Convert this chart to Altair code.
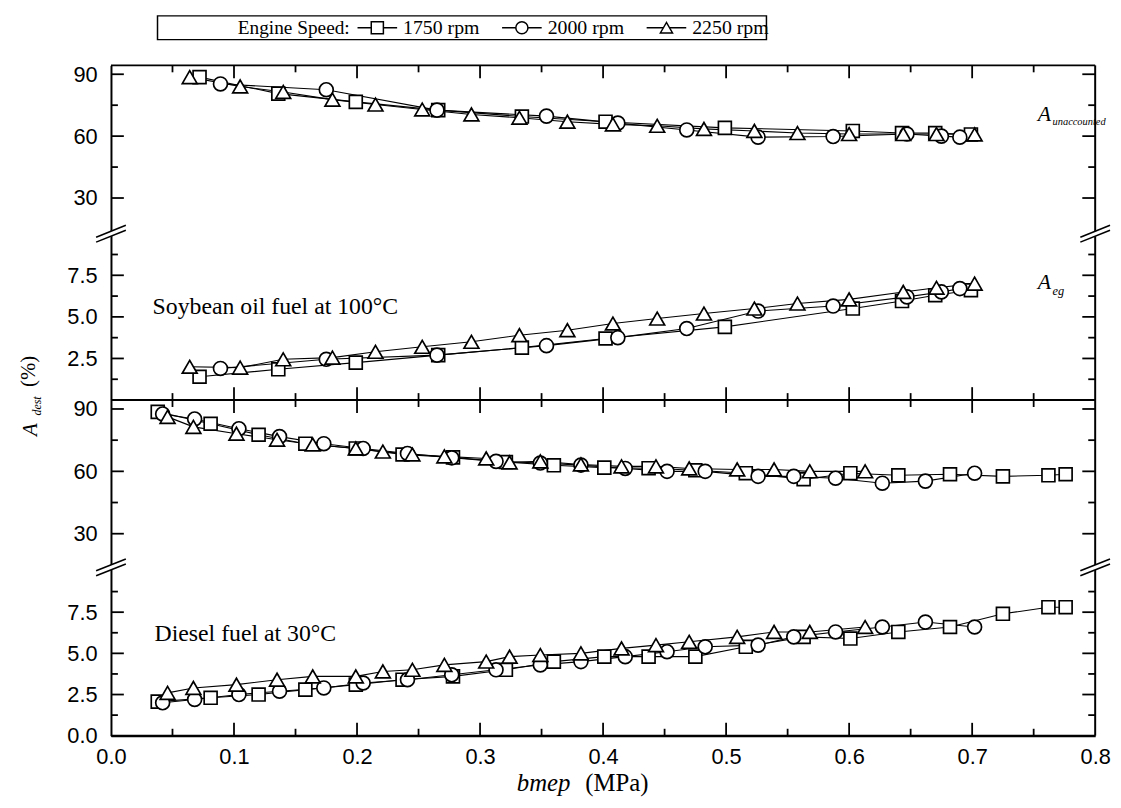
import altair as alt
import pandas as pd

# ---------------- data ----------------
speeds = ["1750 rpm", "2000 rpm", "2250 rpm"]
symbols = ["square", "circle", "triangle-up"]

# Soybean oil fuel at 100 C
soy_x_1750 = [0.072, 0.136, 0.199, 0.266, 0.334, 0.402, 0.499, 0.603, 0.643, 0.670, 0.699]
soy_unc_1750 = [88.6, 80.6, 76.6, 72.6, 69.5, 67.0, 64.0, 62.5, 61.5, 61.5, 60.8]
soy_eg_1750 = [1.4, 1.85, 2.25, 2.7, 3.15, 3.7, 4.4, 5.5, 5.95, 6.3, 6.6]

soy_x_2000 = [0.089, 0.175, 0.265, 0.354, 0.412, 0.468, 0.526, 0.587, 0.647, 0.675, 0.690]
soy_unc_2000 = [85.3, 82.5, 72.6, 69.7, 66.3, 63.0, 59.5, 59.8, 61.0, 60.0, 59.5]
soy_eg_2000 = [1.9, 2.45, 2.7, 3.27, 3.75, 4.3, 5.35, 5.65, 6.2, 6.5, 6.7]

soy_x_2250 = [0.064, 0.105, 0.140, 0.180, 0.215, 0.253, 0.293, 0.332, 0.371, 0.408,
              0.444, 0.482, 0.523, 0.558, 0.600, 0.644, 0.671, 0.702]
soy_unc_2250 = [88.6, 84.1, 81.4, 77.7, 75.3, 72.9, 70.5, 68.9, 67.0, 65.7,
                65.0, 63.5, 62.5, 61.5, 61.0, 61.0, 61.0, 60.8]
soy_eg_2250 = [2.0, 1.95, 2.45, 2.55, 2.9, 3.2, 3.5, 3.9, 4.2, 4.6,
               4.9, 5.2, 5.5, 5.8, 6.05, 6.5, 6.75, 7.0]

# Diesel fuel at 30 C
die_x_1750 = [0.038, 0.081, 0.120, 0.158, 0.199, 0.237, 0.278, 0.321, 0.360, 0.401,
              0.437, 0.475, 0.516, 0.563, 0.601, 0.640, 0.682, 0.725, 0.762, 0.776]
die_unc_1750 = [88.6, 82.9, 77.6, 73.3, 71.0, 68.1, 66.7, 64.5, 62.9, 61.8,
                61.5, 60.5, 59.1, 56.2, 59.1, 58.1, 58.6, 57.6, 58.1, 58.6]
die_eg_1750 = [2.07, 2.3, 2.5, 2.8, 3.1, 3.4, 3.6, 4.0, 4.5, 4.8,
               4.8, 4.8, 5.4, 6.0, 5.9, 6.3, 6.6, 7.4, 7.8, 7.8]

die_x_2000 = [0.042, 0.068, 0.104, 0.137, 0.173, 0.205, 0.241, 0.277, 0.313, 0.349,
              0.382, 0.418, 0.452, 0.483, 0.526, 0.555, 0.589, 0.627, 0.662, 0.702]
die_unc_2000 = [87.6, 85.2, 80.5, 76.7, 73.3, 71.0, 68.6, 66.5, 64.8, 64.0,
                63.0, 61.4, 60.0, 60.0, 57.6, 57.6, 56.7, 54.3, 55.3, 59.1]
die_eg_2000 = [2.0, 2.2, 2.5, 2.7, 2.9, 3.2, 3.4, 3.7, 4.0, 4.3,
               4.5, 4.8, 5.1, 5.4, 5.5, 6.0, 6.3, 6.6, 6.9, 6.6]

die_x_2250 = [0.046, 0.067, 0.102, 0.135, 0.164, 0.199, 0.221, 0.245, 0.271, 0.305,
              0.324, 0.349, 0.382, 0.415, 0.443, 0.470, 0.509, 0.539, 0.568, 0.613]
die_unc_2250 = [86.2, 81.4, 78.1, 75.2, 72.9, 71.0, 69.5, 68.1, 67.2, 66.2,
                64.3, 64.8, 63.3, 62.4, 62.4, 61.4, 60.9, 60.9, 60.0, 60.0]
die_eg_2250 = [2.6, 2.9, 3.1, 3.4, 3.6, 3.6, 3.9, 4.0, 4.3, 4.5,
               4.8, 4.9, 5.0, 5.3, 5.5, 5.7, 6.0, 6.3, 6.3, 6.6]

x_labels = [0.0, 0.1, 0.2, 0.3, 0.4, 0.5, 0.6, 0.7, 0.8]
x_major = [0.1, 0.2, 0.3, 0.4, 0.5, 0.6, 0.7]
x_minor = [0.05, 0.15, 0.25, 0.35, 0.45, 0.55, 0.65, 0.75]
unc_labels = [30, 60, 90]
unc_minor = [45, 75]
eg_labels_top = [2.5, 5.0, 7.5]
eg_labels_bottom = [0.0, 2.5, 5.0, 7.5]
eg_major = [2.5, 5.0, 7.5]
eg_minor = [1.25, 3.75, 6.25, 8.75]


def long_frame(xs_list, ys_list):
    frames = [pd.DataFrame({"x": xs, "y": ys, "speed": sp})
              for sp, xs, ys in zip(speeds, xs_list, ys_list)]
    return pd.concat(frames, ignore_index=True)


soy_unc = long_frame([soy_x_1750, soy_x_2000, soy_x_2250], [soy_unc_1750, soy_unc_2000, soy_unc_2250])
soy_eg = long_frame([soy_x_1750, soy_x_2000, soy_x_2250], [soy_eg_1750, soy_eg_2000, soy_eg_2250])
die_unc = long_frame([die_x_1750, die_x_2000, die_x_2250], [die_unc_1750, die_unc_2000, die_unc_2250])
die_eg = long_frame([die_x_1750, die_x_2000, die_x_2250], [die_eg_1750, die_eg_2000, die_eg_2250])

# ---------------- styling ----------------
SANS = "Liberation Sans"
SERIF = "Liberation Serif"
W = 994
MAJ = 13
MIN = 7
ONE = pd.DataFrame({"a": [0]})


def section(df, domain, H, labels, fmt, major, minor, top=False, bottom=False,
            brk=False, xaxis=None, extras=()):
    xenc = alt.X("x:Q", scale=alt.Scale(domain=[0, 0.8], nice=False, zero=False), axis=xaxis)
    yaxis = alt.Axis(values=labels, format=fmt, ticks=False, grid=False, domain=True,
                     domainColor="black", domainWidth=2, labelFont=SANS, labelFontSize=22,
                     labelColor="black", labelPadding=14, labelOverlap=False, title=None)
    yenc = alt.Y("y:Q", scale=alt.Scale(domain=domain, nice=False, zero=False), axis=yaxis)

    layers = []
    layers.append(alt.Chart(df).mark_line(color="black", strokeWidth=1.1).encode(
        x=xenc, y=yenc, detail="speed:N"))
    layers.append(alt.Chart(df).mark_point(filled=True, fill="white", stroke="black",
                                           strokeWidth=1.7, opacity=1).encode(
        x=xenc, y=yenc,
        shape=alt.Shape("speed:N", scale=alt.Scale(domain=speeds, range=symbols), legend=None),
        size=alt.Size("speed:O", scale=alt.Scale(domain=speeds, range=[170, 225, 290]), legend=None)))

    # y ticks (inward) on left and right
    for vals, ln in ((major, MAJ), (minor, MIN)):
        d = pd.DataFrame({"y": vals})
        layers.append(alt.Chart(d).mark_rule(color="black", strokeWidth=1.8).encode(
            x=alt.value(0), x2=alt.value(ln), y=yenc))
        layers.append(alt.Chart(d).mark_rule(color="black", strokeWidth=1.8).encode(
            x=alt.value(W - ln), x2=alt.value(W), y=yenc))
    # right frame
    layers.append(alt.Chart(ONE).mark_rule(color="black", strokeWidth=2).encode(
        x=alt.value(W), y=alt.value(0), y2=alt.value(H)))
    if top:
        layers.append(alt.Chart(ONE).mark_rule(color="black", strokeWidth=2).encode(
            x=alt.value(0), x2=alt.value(W), y=alt.value(0)))
        for vals, ln in ((x_major, MAJ), (x_minor, MIN)):
            d = pd.DataFrame({"x": vals})
            layers.append(alt.Chart(d).mark_rule(color="black", strokeWidth=1.8).encode(
                x=xenc, y=alt.value(0), y2=alt.value(ln)))
    if bottom:
        layers.append(alt.Chart(ONE).mark_rule(color="black", strokeWidth=2).encode(
            x=alt.value(0), x2=alt.value(W), y=alt.value(H)))
        for vals, ln in ((x_major, MAJ), (x_minor, MIN)):
            d = pd.DataFrame({"x": vals})
            layers.append(alt.Chart(d).mark_rule(color="black", strokeWidth=1.8).encode(
                x=xenc, y=alt.value(H - ln), y2=alt.value(H)))
    if brk:
        for cx in (0, W):
            layers.append(alt.Chart(ONE).mark_rule(color="white", strokeWidth=5).encode(
                x=alt.value(cx - 15), x2=alt.value(cx + 15), y=alt.value(6), y2=alt.value(-6)))
            for off in (-2.5, 2.5):
                layers.append(alt.Chart(ONE).mark_rule(color="black", strokeWidth=1.6).encode(
                    x=alt.value(cx - 15), x2=alt.value(cx + 15),
                    y=alt.value(6 + off), y2=alt.value(-6 + off)))
    layers.extend(extras)
    return alt.layer(*layers).properties(width=W, height=H)


def txt(s, x, y, size, font=SERIF, style="normal", align="left", baseline="alphabetic", angle=0):
    kw = dict(text=s, font=font, fontSize=size, fontStyle=style, align=align,
              baseline=baseline, color="black")
    if angle:
        kw["angle"] = angle
    return alt.Chart(ONE).mark_text(**kw).encode(x=alt.value(x), y=alt.value(y))


# ---------------- legend (drawn above the first panel) ----------------
LY = -38
legend_layers = [
    alt.Chart(ONE).mark_rect(fill="white", stroke="black", strokeWidth=1.5).encode(
        x=alt.value(47), x2=alt.value(662), y=alt.value(-50), y2=alt.value(-26)),
    txt("Engine Speed:", 128, LY, 19.5, baseline="middle"),
]
for i, (sp, sym) in enumerate(zip(speeds, symbols)):
    x0 = 249 + i * 146
    legend_layers.append(alt.Chart(ONE).mark_rule(color="black", strokeWidth=1.3).encode(
        x=alt.value(x0), x2=alt.value(x0 + 40), y=alt.value(LY)))
    legend_layers.append(alt.Chart(ONE).mark_point(filled=True, fill="white", stroke="black",
                                                   strokeWidth=1.5, opacity=1, shape=sym,
                                                   size=150).encode(
        x=alt.value(x0 + 20), y=alt.value(LY)))
    legend_layers.append(txt(sp, x0 + 46, LY, 20, baseline="middle"))

s1_extras = legend_layers + [
    txt("A", 936, 56, 22, style="italic"),
    txt("unaccounted", 951, 60, 10.5, style="italic"),
]
s2_extras = [
    txt("A", 936, 56, 22, style="italic"),
    txt("eg", 951, 62, 12.5, style="italic"),
    txt("Soybean oil fuel at 100°C", 42, 81, 24),
    txt("A", -81, 198, 21, style="italic", align="center", baseline="middle", angle=270),
    txt("dest", -75, 174, 12, style="italic", align="center", baseline="middle", angle=270),
    txt("(%)", -83, 139, 21, align="center", baseline="middle", angle=270),
]
s4_extras = [
    txt("Diesel fuel at 30°C", 44, 74, 24),
    txt("bmep", 464, 226, 25, style="italic", align="right"),
    txt("(MPa)", 479, 226, 25),
]

x_axis_bottom = alt.Axis(values=x_labels, format=".1f", ticks=False, grid=False, domain=True,
                         domainColor="black", domainWidth=2, labelFont=SANS, labelFontSize=22,
                         labelColor="black", labelPadding=11, labelFlush=False,
                         labelOverlap=False, title=None)

s1 = section(soy_unc, [12.7, 94.3], 170, unc_labels, "d", unc_labels, unc_minor,
             top=True, extras=s1_extras)
s2 = section(soy_eg, [0, 10.0], 168, eg_labels_top, ".1f", eg_major, eg_minor,
             bottom=True, brk=True, extras=s2_extras)
s3 = section(die_unc, [13.8, 94.3], 169, unc_labels, "d", unc_labels, unc_minor,
             top=True)
s4 = section(die_eg, [0, 10.22], 170, eg_labels_bottom, ".1f", eg_major, eg_minor,
             bottom=True, brk=True, xaxis=x_axis_bottom, extras=s4_extras)

chart = alt.vconcat(s1, s2, s3, s4, spacing=0, bounds="flush").configure_view(
    stroke="transparent").properties(
    background="white", padding={"left": 9, "top": 2, "right": 0, "bottom": 0})

chart.save("out.html", embed_options={"renderer": "svg", "actions": False})
